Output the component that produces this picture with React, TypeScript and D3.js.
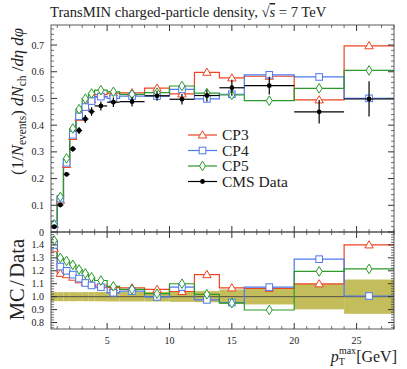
import React, { useEffect, useRef } from "react";
import * as d3 from "d3";

// pT(max) bin edges [GeV]
const binEdges = [0.5, 1, 1.5, 2, 2.5, 3, 3.5, 4, 5, 6, 8, 10, 12, 14, 16, 20, 24, 28];

// CMS data: charged-particle density in TransMIN region
const cmsData = [0.020, 0.101, 0.216, 0.311, 0.380, 0.423, 0.451, 0.472, 0.486, 0.488, 0.510, 0.497, 0.511, 0.540, 0.548, 0.450, 0.498];
const cmsErr = [0.0007, 0.0035, 0.0076, 0.011, 0.013, 0.015, 0.016, 0.017, 0.018, 0.018, 0.019, 0.02, 0.022, 0.03, 0.033, 0.044, 0.066];

// MC tunes
const cp3 = [0.0274, 0.1192, 0.2527, 0.3577, 0.4294, 0.4695, 0.4961, 0.5145, 0.520, 0.5212, 0.5386, 0.5169, 0.5979, 0.5767, 0.5831, 0.4946, 0.6972];
const cp4 = [0.0280, 0.1245, 0.2592, 0.3639, 0.4332, 0.4678, 0.4902, 0.5069, 0.5006, 0.509, 0.509, 0.5338, 0.4982, 0.5157, 0.5886, 0.5805, 0.5005];
const cp5 = [0.0287, 0.1313, 0.2756, 0.3875, 0.4598, 0.4991, 0.5187, 0.531, 0.5249, 0.5153, 0.5217, 0.5467, 0.5202, 0.513, 0.4916, 0.5378, 0.605];

const topTicks = [0, 0.1, 0.2, 0.3, 0.4, 0.5, 0.6, 0.7];
const topTickLabels = ["0", "0.1", "0.2", "0.3", "0.4", "0.5", "0.6", "0.7"];
const ratioTicks = [0.8, 0.9, 1.0, 1.1, 1.2, 1.3, 1.4];
const ratioTickLabels = ["0.8", "0.9", "1.0", "1.1", "1.2", "1.3", "1.4"];
const xTicks = [5, 10, 15, 20, 25];

const series = [
  { name: "CP3", values: cp3, color: "#ee4422", marker: "triangle" },
  { name: "CP4", values: cp4, color: "#4d79ee", marker: "square" },
  { name: "CP5", values: cp5, color: "#2a9a2a", marker: "diamond" },
];

const FONT = "'Liberation Serif', 'DejaVu Serif', serif";

const App = () => {
  const ref = useRef(null);

  useEffect(() => {
    const svg = d3.select(ref.current);
    svg.selectAll("*").remove();

    const width = 407, height = 369;
    const left = 51, right = 394;
    const topY0 = 25, topY1 = 232, ratY1 = 329;

    const x = d3.scaleLinear().domain([0.5, 28]).range([left, right]);
    const y = d3.scaleLinear().domain([0, 0.775]).range([topY1, topY0]);
    const yr = d3.scaleLinear().domain([0.75, 1.5]).range([ratY1, topY1]);

    const bins = binEdges.slice(0, -1).map((lo, i) => ({ lo, hi: binEdges[i + 1], mid: (lo + binEdges[i + 1]) / 2 }));
    const ratio = (vals) => vals.map((v, i) => v / cmsData[i]);

    svg.attr("width", width).attr("height", height)
      .style("position", "absolute").style("left", "0px").style("top", "0px");

    const defs = svg.append("defs");
    defs.append("clipPath").attr("id", "clipTop").append("rect")
      .attr("x", left).attr("y", topY0).attr("width", right - left).attr("height", topY1 - topY0);
    defs.append("clipPath").attr("id", "clipRat").append("rect")
      .attr("x", left).attr("y", topY1).attr("width", right - left).attr("height", ratY1 - topY1);

    // step path for histograms
    const stepPath = (vals, ys) => {
      const pts = [];
      bins.forEach((b, i) => {
        pts.push([x(b.lo), ys(vals[i])]);
        pts.push([x(b.hi), ys(vals[i])]);
      });
      return d3.line()(pts);
    };

    const drawMarker = (g, type, cx, cy, color) => {
      if (type === "triangle") {
        g.append("path").attr("d", `M${cx},${cy - 4.2}L${cx + 4.2},${cy + 3}L${cx - 4.2},${cy + 3}Z`)
          .attr("fill", "white").attr("stroke", color).attr("stroke-width", 1);
      } else if (type === "square") {
        g.append("rect").attr("x", cx - 3.3).attr("y", cy - 3.3).attr("width", 6.6).attr("height", 6.6)
          .attr("fill", "white").attr("stroke", color).attr("stroke-width", 1);
      } else {
        g.append("path").attr("d", `M${cx},${cy - 4.8}L${cx + 3},${cy}L${cx},${cy + 4.8}L${cx - 3},${cy}Z`)
          .attr("fill", "white").attr("stroke", color).attr("stroke-width", 1);
      }
    };

    // ---------- top panel ----------
    const gTop = svg.append("g").attr("clip-path", "url(#clipTop)");
    series.forEach((s) => {
      gTop.append("path").attr("d", stepPath(s.values, y))
        .attr("fill", "none").attr("stroke", s.color).attr("stroke-width", 1.2);
    });
    series.forEach((s) => {
      bins.forEach((b, i) => drawMarker(gTop, s.marker, x(b.mid), y(s.values[i]), s.color));
    });
    bins.forEach((b, i) => {
      const cx = x(b.mid), cy = y(cmsData[i]);
      gTop.append("line").attr("x1", x(b.lo)).attr("x2", x(b.hi)).attr("y1", cy).attr("y2", cy)
        .attr("stroke", "black").attr("stroke-width", 1.2);
      gTop.append("line").attr("x1", cx).attr("x2", cx)
        .attr("y1", y(cmsData[i] - cmsErr[i])).attr("y2", y(cmsData[i] + cmsErr[i]))
        .attr("stroke", "black").attr("stroke-width", 1.2);
      gTop.append("circle").attr("cx", cx).attr("cy", cy).attr("r", 2.4).attr("fill", "black");
    });

    // ---------- ratio panel ----------
    const gRat = svg.append("g").attr("clip-path", "url(#clipRat)");
    bins.forEach((b, i) => {
      const rel = cmsErr[i] / cmsData[i];
      gRat.append("rect").attr("x", x(b.lo)).attr("width", x(b.hi) - x(b.lo))
        .attr("y", yr(1 + rel)).attr("height", yr(1 - rel) - yr(1 + rel))
        .attr("fill", "#c4bd5c");
    });
    gRat.append("line").attr("x1", left).attr("x2", right).attr("y1", yr(1)).attr("y2", yr(1))
      .attr("stroke", "#444").attr("stroke-width", 0.9);
    series.forEach((s) => {
      gRat.append("path").attr("d", stepPath(ratio(s.values), yr))
        .attr("fill", "none").attr("stroke", s.color).attr("stroke-width", 1.2);
    });
    series.forEach((s) => {
      const r = ratio(s.values);
      bins.forEach((b, i) => drawMarker(gRat, s.marker, x(b.mid), yr(r[i]), s.color));
    });

    // ---------- frames and ticks ----------
    const tickColor = "#333";
    const frame = (y0, y1) => {
      svg.append("rect").attr("x", left).attr("y", y0).attr("width", right - left).attr("height", y1 - y0)
        .attr("fill", "none").attr("stroke", tickColor).attr("stroke-width", 0.8);
      // x ticks on top and bottom edge
      d3.range(1, 28.01, 1).forEach((t) => {
        const major = t % 5 === 0;
        const len = major ? 6 : 3;
        const xx = x(t);
        svg.append("line").attr("x1", xx).attr("x2", xx).attr("y1", y0).attr("y2", y0 + len)
          .attr("stroke", tickColor).attr("stroke-width", major ? 1 : 0.7);
        svg.append("line").attr("x1", xx).attr("x2", xx).attr("y1", y1).attr("y2", y1 - len)
          .attr("stroke", tickColor).attr("stroke-width", major ? 1 : 0.7);
      });
    };
    frame(topY0, topY1);
    frame(topY1, ratY1);

    const yTicksFor = (scale, minorStep, majors, lo, hi) => {
      d3.range(lo, hi + 1e-9, minorStep).forEach((t) => {
        const major = majors.some((m) => Math.abs(m - t) < 1e-6);
        const len = major ? 6 : 3;
        const yy = scale(t);
        svg.append("line").attr("x1", left).attr("x2", left + len).attr("y1", yy).attr("y2", yy)
          .attr("stroke", tickColor).attr("stroke-width", major ? 1 : 0.7);
        svg.append("line").attr("x1", right).attr("x2", right - len).attr("y1", yy).attr("y2", yy)
          .attr("stroke", tickColor).attr("stroke-width", major ? 1 : 0.7);
      });
    };
    yTicksFor(y, 0.02, topTicks, 0, 0.76);
    yTicksFor(yr, 0.02, ratioTicks, 0.76, 1.48);

    const label = (txt, xx, yy, anchor, size) =>
      svg.append("text").attr("x", xx).attr("y", yy).attr("text-anchor", anchor)
        .attr("font-family", FONT).attr("font-size", size).attr("fill", "#222").text(txt);

    topTicks.forEach((t, i) => label(topTickLabels[i], 44, y(t) + 3.5, "end", 10));
    ratioTicks.forEach((t, i) => label(ratioTickLabels[i], 44, yr(t) + 3.5, "end", 10));
    xTicks.forEach((t) => label(String(t), x(t), 344, "middle", 10));

    // title
    const title = svg.append("text").attr("x", 50).attr("y", 17)
      .attr("font-family", FONT).attr("font-size", 14.6).attr("fill", "#222");
    title.append("tspan").text("TransMIN charged-particle density, √");
    title.append("tspan").style("text-decoration", "overline").attr("font-style", "italic").text("s");
    title.append("tspan").text(" = 7 TeV");

    // y label top
    const yl = svg.append("text").attr("transform", "translate(23,28) rotate(-90)")
      .attr("text-anchor", "end").attr("font-family", FONT).attr("font-size", 16.8).attr("fill", "#222");
    yl.append("tspan").text("(1/");
    yl.append("tspan").attr("font-style", "italic").text("N");
    yl.append("tspan").attr("font-size", 11.5).attr("dy", 3).text("events");
    yl.append("tspan").attr("dy", -3).text(") ");
    yl.append("tspan").attr("font-style", "italic").text("dN");
    yl.append("tspan").attr("font-size", 11.5).attr("dy", 3).text("ch");
    yl.append("tspan").attr("dy", -3).text(" /");
    yl.append("tspan").attr("font-style", "italic").text("dη dφ");

    // y label ratio
    const rl = svg.append("text").attr("transform", "translate(24,239) rotate(-90)")
      .attr("text-anchor", "end").attr("font-family", FONT).attr("font-size", 20.5).attr("fill", "#222");
    rl.append("tspan").text("MC");
    rl.append("tspan").attr("dx", 2.5).text("/");
    rl.append("tspan").attr("dx", 2.5).text("Data");

    // x label
    const xl = svg.append("text").attr("x", 397).attr("y", 362).attr("text-anchor", "end")
      .attr("font-family", FONT).attr("font-size", 16).attr("fill", "#222");
    xl.append("tspan").attr("font-style", "italic").text("p");
    xl.append("tspan").attr("font-size", 10).attr("dy", 3).text("T");
    xl.append("tspan").attr("font-size", 10).attr("dx", -6).attr("dy", -11).text("max");
    xl.append("tspan").attr("dy", 8).text("[GeV]");

    // legend
    const legendItems = [...series, { name: "CMS Data", color: "black", marker: "dot" }];
    legendItems.forEach((s, i) => {
      const ly = 135 + i * 15.5;
      svg.append("line").attr("x1", 188).attr("x2", 217).attr("y1", ly).attr("y2", ly)
        .attr("stroke", s.color).attr("stroke-width", 1.2);
      if (s.marker === "dot") {
        svg.append("circle").attr("cx", 202.5).attr("cy", ly).attr("r", 2.4).attr("fill", "black");
      } else {
        drawMarker(svg, s.marker, 202.5, ly, s.color);
      }
      label(s.name, 222, ly + 5, "start", 15.5);
    });
  }, []);

  return <svg ref={ref}></svg>;
};

export default App;
